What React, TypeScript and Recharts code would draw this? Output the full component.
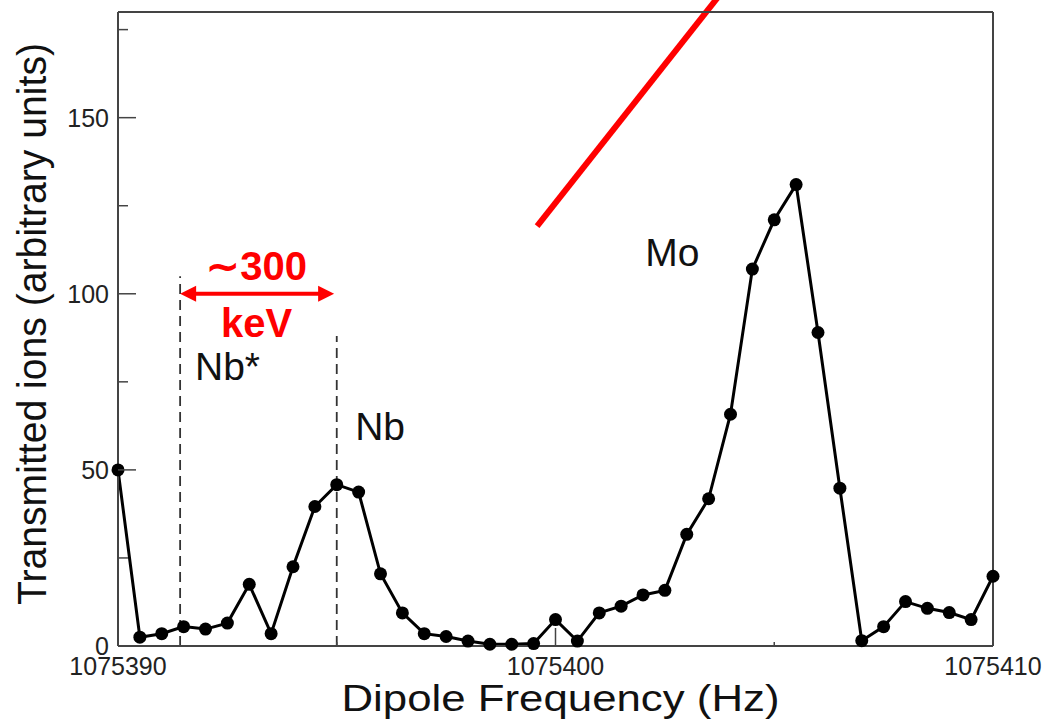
import React from 'react';
import { LineChart, Line, XAxis, YAxis, ReferenceLine, ReferenceDot, Label } from 'recharts';

// dipole frequency scan, 0.5 Hz steps
const frequencies = [
  1075390, 1075390.5, 1075391, 1075391.5, 1075392, 1075392.5, 1075393, 1075393.5,
  1075394, 1075394.5, 1075395, 1075395.5, 1075396, 1075396.5, 1075397, 1075397.5,
  1075398, 1075398.5, 1075399, 1075399.5, 1075400, 1075400.5, 1075401, 1075401.5,
  1075402, 1075402.5, 1075403, 1075403.5, 1075404, 1075404.5, 1075405, 1075405.5,
  1075406, 1075406.5, 1075407, 1075407.5, 1075408, 1075408.5, 1075409, 1075409.5,
  1075410,
];

const transmittedIons = [
  50, 2.5, 3.5, 5.5, 4.8, 6.5, 17.5, 3.5, 22.5, 39.6, 45.8, 43.7, 20.5, 9.4,
  3.5, 2.7, 1.4, 0.5, 0.5, 0.7, 7.5, 1.4, 9.4, 11.3, 14.5, 15.8, 31.7, 41.8,
  65.8, 107, 121, 131, 89, 44.8, 1.5, 5.5, 12.6, 10.7, 9.5, 7.5, 19.8,
];

const xTicks = [1075390, 1075395, 1075400, 1075405, 1075410];
const xMajorTicks = [1075390, 1075400, 1075410];
const yTicks = [0, 25, 50, 75, 100, 125, 150, 175];
const yMajorTicks = [0, 50, 100, 150];

// annotation anchors (data coordinates)
const nbStarFreq = 1075391.42;
const nbFreq = 1075395;
const peakLabels = [
  { text: 'Nb*', freq: 1075391.76, ions: 75.4 },
  { text: 'Nb', freq: 1075395.42, ions: 58.4 },
  { text: 'Mo', freq: 1075402.05, ions: 107.8 },
];
const energyLabels = [
  { text: '\u223C300', freq: 1075393.17, ions: 103.8 },
  { text: 'keV', freq: 1075393.17, ions: 87.6 },
];

const chartData = frequencies.map((f, i) => ({ freq: f, ions: transmittedIons[i] }));

const AXIS = '#444';
const RED = '#ff0000';
const FONT = '"Liberation Sans", Arial, Helvetica, sans-serif';

const BottomTick = (props: any) => {
  const { x, y, payload } = props;
  const major = xMajorTicks.includes(payload.value);
  return (
    <g>
      <line x1={x} y1={y} x2={x} y2={y - (major ? 18 : 4)} stroke={AXIS} strokeWidth={1.5} />
      {major && (
        <text x={x} y={y + 29} textAnchor="middle" fontSize={25} fontFamily={FONT} fill="#222">
          {payload.value}
        </text>
      )}
    </g>
  );
};

const TopTick = (props: any) => {
  const { x, y, payload } = props;
  const major = xMajorTicks.includes(payload.value);
  return <line x1={x} y1={y} x2={x} y2={y + (major ? 18 : 4)} stroke={AXIS} strokeWidth={1.5} />;
};

const LeftTick = (props: any) => {
  const { x, y, payload } = props;
  const major = yMajorTicks.includes(payload.value);
  return (
    <g>
      <line x1={x} y1={y} x2={x + (major ? 18 : 10)} y2={y} stroke={AXIS} strokeWidth={1.5} />
      {major && (
        <text x={x - 9} y={y + 9} textAnchor="end" fontSize={25} fontFamily={FONT} fill="#222">
          {payload.value}
        </text>
      )}
    </g>
  );
};

const RightTick = (props: any) => {
  const { x, y, payload } = props;
  const major = yMajorTicks.includes(payload.value);
  return <line x1={x} y1={y} x2={x - (major ? 18 : 10)} y2={y} stroke={AXIS} strokeWidth={1.5} />;
};

const XTitle = (props: any) => {
  const vb = props.viewBox;
  return (
    <text
      x={vb.x + vb.width / 2 + 5}
      y={vb.y + 65}
      textAnchor="middle"
      fontSize={36}
      fontFamily={FONT}
      fill="#111"
      textLength={438}
      lengthAdjust="spacingAndGlyphs"
    >
      Dipole Frequency (Hz)
    </text>
  );
};

const YTitle = (props: any) => {
  const vb = props.viewBox;
  const cx = vb.x + 46;
  const cy = vb.y + 312;
  return (
    <text
      x={cx}
      y={cy}
      transform={`rotate(-90, ${cx}, ${cy})`}
      textAnchor="middle"
      fontSize={40}
      fontFamily={FONT}
      fill="#111"
      textLength={562}
      lengthAdjust="spacingAndGlyphs"
    >
      Transmitted ions (arbitrary units)
    </text>
  );
};

// double headed arrow drawn between the segment ends
const DoubleArrow = (props: any) => {
  const { x1, y1, x2, y2 } = props;
  const head = 16;
  const half = 8;
  return (
    <g>
      <line x1={x1 + head - 2} y1={y1} x2={x2 - head + 2} y2={y2} stroke={RED} strokeWidth={4} />
      <polygon points={`${x1},${y1} ${x1 + head},${y1 - half} ${x1 + head},${y1 + half}`} fill={RED} />
      <polygon points={`${x2},${y2} ${x2 - head},${y2 - half} ${x2 - head},${y2 + half}`} fill={RED} />
    </g>
  );
};

export default function App() {
  return (
    <div style={{ position: 'absolute', left: 0, top: 0, background: '#fff' }}>
      <LineChart width={1047} height={725} data={chartData} margin={{ top: 0, right: 0, bottom: 0, left: 0 }}>
        <XAxis
          xAxisId="bottom"
          dataKey="freq"
          type="number"
          domain={[1075390, 1075410]}
          ticks={xTicks}
          interval={0}
          height={79}
          tickSize={0}
          tickMargin={0}
          tickLine={false}
          axisLine={{ stroke: AXIS, strokeWidth: 2 }}
          tick={<BottomTick />}
          label={<Label content={XTitle} />}
        />
        <XAxis
          xAxisId="top"
          orientation="top"
          type="number"
          domain={[1075390, 1075410]}
          ticks={xTicks}
          interval={0}
          height={12}
          tickSize={0}
          tickMargin={0}
          tickLine={false}
          axisLine={{ stroke: AXIS, strokeWidth: 2 }}
          tick={<TopTick />}
        />
        <YAxis
          yAxisId="left"
          type="number"
          domain={[0, 180]}
          ticks={yTicks}
          interval={0}
          width={118}
          tickSize={0}
          tickMargin={0}
          tickLine={false}
          axisLine={{ stroke: AXIS, strokeWidth: 2 }}
          tick={<LeftTick />}
          label={<Label content={YTitle} />}
        />
        <YAxis
          yAxisId="right"
          orientation="right"
          type="number"
          domain={[0, 180]}
          ticks={yTicks}
          interval={0}
          width={54}
          tickSize={0}
          tickMargin={0}
          tickLine={false}
          axisLine={{ stroke: AXIS, strokeWidth: 2 }}
          tick={<RightTick />}
        />

        <ReferenceLine
          xAxisId="bottom"
          yAxisId="left"
          segment={[{ x: nbStarFreq, y: 0 }, { x: nbStarFreq, y: 105 }]}
          stroke="#333"
          strokeWidth={1.8}
          strokeDasharray="10 6"
        />
        <ReferenceLine
          xAxisId="bottom"
          yAxisId="left"
          segment={[{ x: nbFreq, y: 0 }, { x: nbFreq, y: 88 }]}
          stroke="#333"
          strokeWidth={1.8}
          strokeDasharray="10 6"
        />

        <Line
          xAxisId="bottom"
          yAxisId="left"
          type="linear"
          dataKey="ions"
          stroke="#000"
          strokeWidth={3}
          dot={{ r: 6.5, fill: '#000', stroke: '#000', strokeWidth: 0 }}
          activeDot={false}
          isAnimationActive={false}
        />

        <ReferenceLine
          xAxisId="bottom"
          yAxisId="left"
          segment={[{ x: 1075391.42, y: 100 }, { x: 1075394.94, y: 100 }]}
          shape={DoubleArrow}
        />
        <ReferenceLine
          xAxisId="bottom"
          yAxisId="left"
          ifOverflow="visible"
          segment={[{ x: 1075399.58, y: 119.2 }, { x: 1075403.7, y: 184 }]}
          stroke={RED}
          strokeWidth={6}
        />

        {peakLabels.map((p) => (
          <ReferenceDot
            key={p.text}
            xAxisId="bottom"
            yAxisId="left"
            x={p.freq}
            y={p.ions}
            r={0}
            shape={(s: any) => (
              <text x={s.cx} y={s.cy} fontSize={39} fontFamily={FONT} fill="#111">
                {p.text}
              </text>
            )}
          />
        ))}
        {energyLabels.map((p) => (
          <ReferenceDot
            key={p.text}
            xAxisId="bottom"
            yAxisId="left"
            x={p.freq}
            y={p.ions}
            r={0}
            shape={(s: any) => (
              <text x={s.cx} y={s.cy} textAnchor="middle" fontSize={40} fontWeight="bold" fontFamily={FONT} fill={RED}>
                {p.text}
              </text>
            )}
          />
        ))}
      </LineChart>
    </div>
  );
}
